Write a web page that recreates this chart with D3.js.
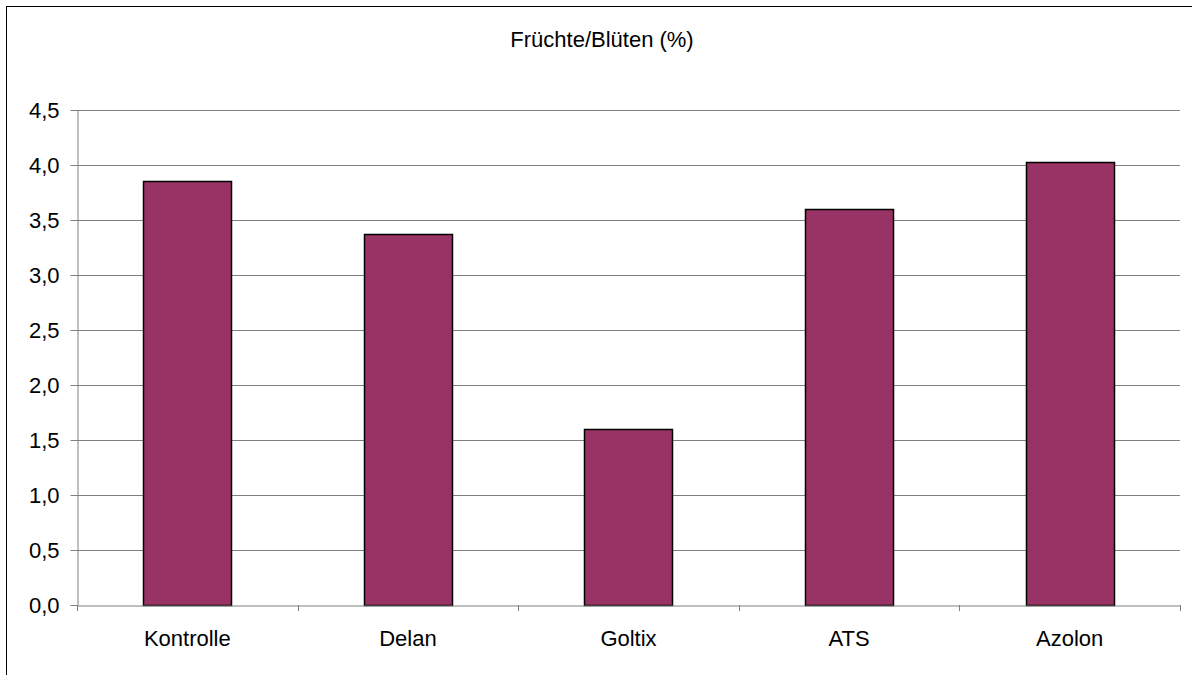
<!DOCTYPE html>
<html><head><meta charset="utf-8">
<script src="https://cdn.jsdelivr.net/npm/d3@7"></script>
<style>body{margin:0;background:#fff}svg{display:block}text{font-family:"Liberation Sans",Arial,sans-serif;fill:#000}</style>
</head><body>
<svg id="c" width="1192" height="675"></svg>
<script>
const categories = ["Kontrolle","Delan","Goltix","ATS","Azolon"];
const values = [3.85, 3.37, 1.60, 3.60, 4.03];
const yTicks = [0,0.5,1,1.5,2,2.5,3,3.5,4,4.5];
const title = "Früchte/Blüten (%)";

const FS = 22;
const svg = d3.select("#c");
const L = 77, R = 1180, T = 110, B = 605;
svg.append("rect").attr("x",6.5).attr("y",6.5).attr("width",1190).attr("height",670)
  .attr("fill","#fff").attr("stroke","#000").attr("stroke-width",1);

const x = d3.scaleBand().domain(categories).range([L,R]).paddingInner(0.6).paddingOuter(0.3);
const xb = d3.scaleBand().domain(categories).range([L,R]);
const y = d3.scaleLinear().domain([0,4.5]).range([B,T]);
const fmt = d => d3.format(".1f")(d).replace(".",",");

// grid
svg.append("g").selectAll("line").data(yTicks.filter(d=>d>0)).join("line")
  .attr("x1",L).attr("x2",R).attr("y1",d=>Math.round(y(d))+0.5).attr("y2",d=>Math.round(y(d))+0.5)
  .attr("stroke","#808080").attr("stroke-width",1);

// bars
svg.append("g").selectAll("rect").data(values).join("rect")
  .attr("x",(d,i)=>Math.round(x(categories[i]))+0.5)
  .attr("y",d=>Math.round(y(d))+0.5)
  .attr("width",Math.round(x.bandwidth()))
  .attr("height",d=>Math.round(B)-Math.round(y(d)))
  .attr("fill","#993366").attr("stroke","#000").attr("stroke-width",1.5);

// y axis
const ya = svg.append("g").attr("transform",`translate(${L+0.5},0)`)
  .call(d3.axisLeft(y).tickValues(yTicks).tickFormat(fmt).tickSize(7).tickSizeOuter(0));
ya.select(".domain").attr("stroke","#808080");
ya.selectAll(".tick line").attr("stroke","#808080");
ya.selectAll(".tick text").attr("font-size",FS).attr("x",-18).attr("dy","0.35em")
  .attr("font-family","Liberation Sans, Arial, sans-serif");

// x axis
const xa = svg.append("g").attr("transform",`translate(0,${B+0.5})`)
  .call(d3.axisBottom(xb).tickSize(0).tickSizeOuter(0));
xa.select(".domain").attr("stroke","#808080");
xa.selectAll(".tick text").attr("font-size",FS).attr("dy",0).attr("y",40)
  .attr("font-family","Liberation Sans, Arial, sans-serif");
// category boundary ticks
const bounds = categories.map(c=>xb(c)).concat([R]);
svg.append("g").selectAll("line").data(bounds).join("line")
  .attr("x1",d=>Math.round(d)+0.5).attr("x2",d=>Math.round(d)+0.5)
  .attr("y1",B).attr("y2",B+6).attr("stroke","#808080");

svg.append("text").attr("x",602).attr("y",47)
  .attr("text-anchor","middle").attr("font-size",FS).text(title);
</script>
</body></html>
